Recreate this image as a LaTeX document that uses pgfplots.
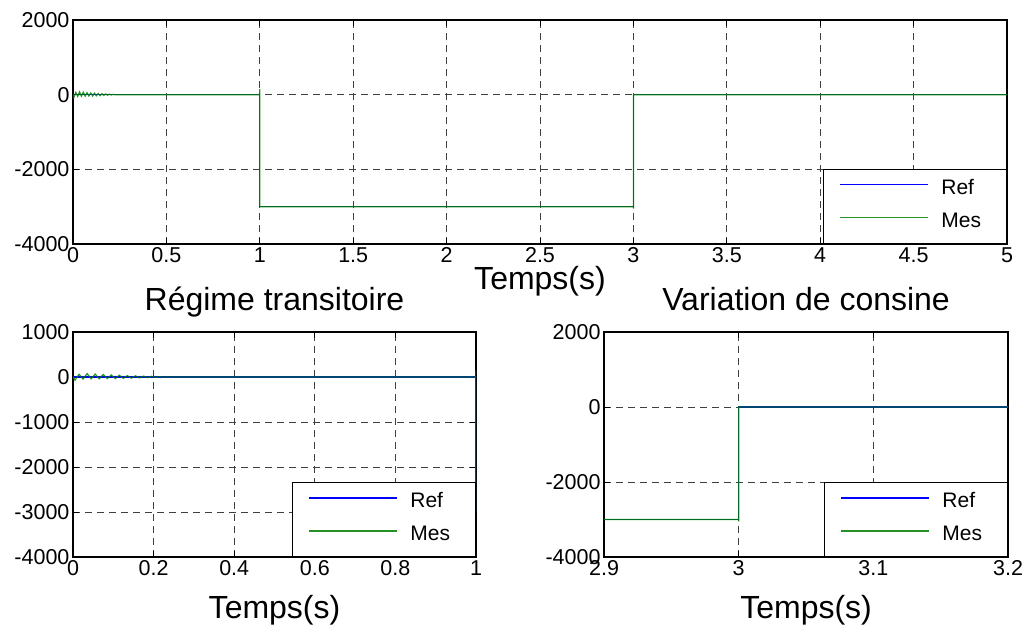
\documentclass[border=0pt]{standalone}
\usepackage{pgfplots}
\pgfplotsset{compat=1.18}
\usepackage{pgfplotstable}
\usepackage{fontspec}
\setmainfont{Liberation Sans}

\definecolor{refc}{rgb}{0,0,1}
\definecolor{mesc}{rgb}{0,0.5,0}

% consigne (Ref)
\pgfplotstableread{
t v
0 0
1 0
1 -3000
3 -3000
3 0
5 0
}\refdata

% mesure (Mes)
\pgfplotstableread{
t v
0.000 0
0.005 -70
0.015 60
0.025 -45
0.035 75
0.045 -40
0.055 65
0.065 -40
0.075 55
0.085 -35
0.095 45
0.105 -35
0.115 40
0.125 -30
0.135 30
0.145 -25
0.155 25
0.165 -20
0.175 20
0.185 -15
0.195 15
0.205 -10
0.215 8
0.225 -4
0.235 0
1.000 0
1.000 150
1.000 -3000
3.000 -3000
3.000 -3050
3.000 0
5.000 0
}\mesdata

\pgfplotsset{
  matstyle/.style={
    scale only axis,
    grid=major,
    major grid style={black!75, line width=0.8pt, dash pattern=on 7pt off 5pt},
    axis line style={line width=1.2pt},
    tick align=inside, major tick length=6pt,
    tick style={black, line width=0.8pt},
    ticklabel style={font=\fontsize{21.5}{25}\selectfont},
    /pgf/number format/assume math mode=true,
    /pgf/number format/1000 sep={},
    scaled ticks=false,
    label style={font=\fontsize{32}{38}\selectfont},
    title style={font=\fontsize{32}{38}\selectfont,
      at={(axis description cs:0.5,1)}, anchor=base, yshift=15pt},
    legend style={at={(1,0)}, anchor=south east, draw=black, line width=1.2pt,
      fill=white, inner xsep=16pt, inner ysep=11.5pt, row sep=15pt,
      column sep=13pt,
      nodes={inner sep=0pt, text height=14pt, text depth=4pt, text width=49pt},
      font=\fontsize{21}{24}\selectfont},
    legend cell align=left,
    legend image code/.code={\draw[#1, line width=1.2pt] (0pt,5pt) -- (88pt,5pt);},
  },
  refline/.style={refc, line width=1.2pt},
  mesline/.style={mesc, line width=1.2pt, opacity=0.85},
}

\begin{document}
\begin{tikzpicture}[x=1pt,y=1pt]
\useasboundingbox (0,0) rectangle (1028,635);

% --- courbe complete ---
\begin{axis}[matstyle,
  at={(73pt,391pt)}, anchor=south west,
  width=934pt, height=224pt,
  xmin=0, xmax=5, ymin=-4000, ymax=2000,
  xtick={0,0.5,...,5}, ytick={-4000,-2000,0,2000},
  xlabel={Temps(s)},
  xlabel style={at={(axis description cs:0.5,0)}, anchor=base, yshift=-46pt},
]
\addplot[refline] table[x=t,y=v] {\refdata};
\addplot[mesline] table[x=t,y=v] {\mesdata};
\legend{Ref,Mes}
\end{axis}

% --- regime transitoire ---
\begin{axis}[matstyle,
  at={(73pt,78pt)}, anchor=south west,
  width=403pt, height=225pt,
  xmin=0, xmax=1, ymin=-4000, ymax=1000,
  xtick={0,0.2,0.4,0.6,0.8,1}, ytick={-4000,-3000,...,1000},
  title={Régime transitoire},
  xlabel={Temps(s)},
  xlabel style={at={(axis description cs:0.5,0)}, anchor=base, yshift=-61pt},
]
\addplot[refline] table[x=t,y=v] {\refdata};
\addplot[mesline] table[x=t,y=v] {\mesdata};
\legend{Ref,Mes}
\end{axis}

% --- variation de consigne ---
\begin{axis}[matstyle,
  at={(604pt,78pt)}, anchor=south west,
  width=404pt, height=225pt,
  xmin=2.9, xmax=3.2, ymin=-4000, ymax=2000,
  xtick={2.9,3,3.1,3.2}, ytick={-4000,-2000,0,2000},
  title={Variation de consine},
  xlabel={Temps(s)},
  xlabel style={at={(axis description cs:0.5,0)}, anchor=base, yshift=-61pt},
]
\addplot[refline] table[x=t,y=v] {\refdata};
\addplot[mesline] table[x=t,y=v] {\mesdata};
\legend{Ref,Mes}
\end{axis}
\end{tikzpicture}
\end{document}
